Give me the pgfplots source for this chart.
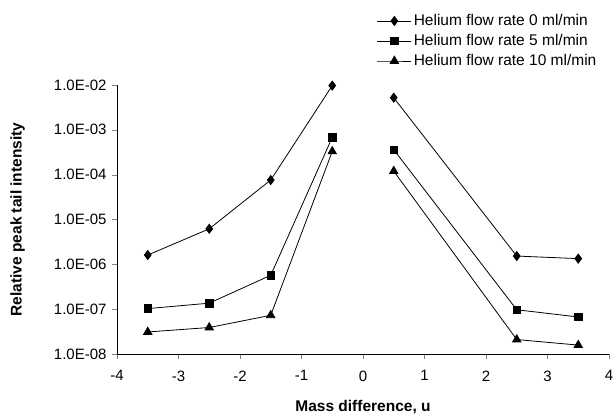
\documentclass[border=0pt]{standalone}
\usepackage{fontspec}
\setmainfont{Liberation Sans}
\usepackage{pgfplots}
\pgfplotsset{compat=1.18}

\begin{document}
\begin{tikzpicture}
\begin{axis}[
  scale only axis, width=492pt, height=269pt,
  xmin=-4, xmax=4, ymin=1e-8, ymax=1e-2,
  ymode=log, yminorticks=false,
  axis x line*=bottom, axis y line*=left,
  tick align=outside, major tick length=5pt,
  xtick={-4,-3,-2,-1,0,1,2,3,4},
  xticklabels={-4,-3,-2,-1,0,1,2,3,4},
  ytick={1e-8,1e-7,1e-6,1e-5,1e-4,1e-3,1e-2},
  yticklabels={1.0E-08,1.0E-07,1.0E-06,1.0E-05,1.0E-04,1.0E-03,1.0E-02},
  tick label style={font=\fontsize{15}{17}\selectfont},
  xticklabel style={yshift=-8pt},
  yticklabel style={xshift=-2pt},
  xlabel={\textbf{Mass difference, u}},
  ylabel={\textbf{Relative peak tail intensity}},
  label style={font=\fontsize{15.5}{18}\selectfont},
  xlabel style={at={(axis description cs:0.5,-0.197)}, anchor=center},
  ylabel style={at={(axis description cs:-0.202,0.5)}, anchor=center},
  unbounded coords=jump,
  every axis plot/.append style={black, line width=0.8pt},
  legend cell align=left,
  legend style={at={(axis description cs:0.528,1.27)}, anchor=north west,
    draw=none, fill=none, inner sep=0pt,
    font=\fontsize{15.5}{18}\selectfont, row sep=3.3pt},
  legend image code/.code={
    \draw[mark repeat=2, mark phase=2] plot coordinates {(0pt,0pt) (17pt,0pt) (34pt,0pt)};},
]
\addplot[mark=diamond*, mark size=4.5pt] coordinates {
  (-3.5,1.61e-6) (-2.5,6.2e-6) (-1.5,7.6e-5) (-0.5,9.7e-3) (0,nan)
  (0.5,5.2e-3) (2.5,1.53e-6) (3.5,1.34e-6)};
\addlegendentry{Helium flow rate 0 ml/min}
\addplot[mark=square*, mark size=3.8pt] coordinates {
  (-3.5,1.03e-7) (-2.5,1.36e-7) (-1.5,5.7e-7) (-0.5,6.8e-4) (0,nan)
  (0.5,3.6e-4) (2.5,9.7e-8) (3.5,6.7e-8)};
\addlegendentry{Helium flow rate 5 ml/min}
\addplot[mark=triangle*, mark size=4.8pt] coordinates {
  (-3.5,3.1e-8) (-2.5,3.9e-8) (-1.5,7.3e-8) (-0.5,3.3e-4) (0,nan)
  (0.5,1.2e-4) (2.5,2.1e-8) (3.5,1.58e-8)};
\addlegendentry{Helium flow rate 10 ml/min}
\end{axis}
\pgfresetboundingbox
\path (current axis.south west) ++(-117pt,-60pt) rectangle ++(614pt,414pt);
\end{tikzpicture}
\end{document}
